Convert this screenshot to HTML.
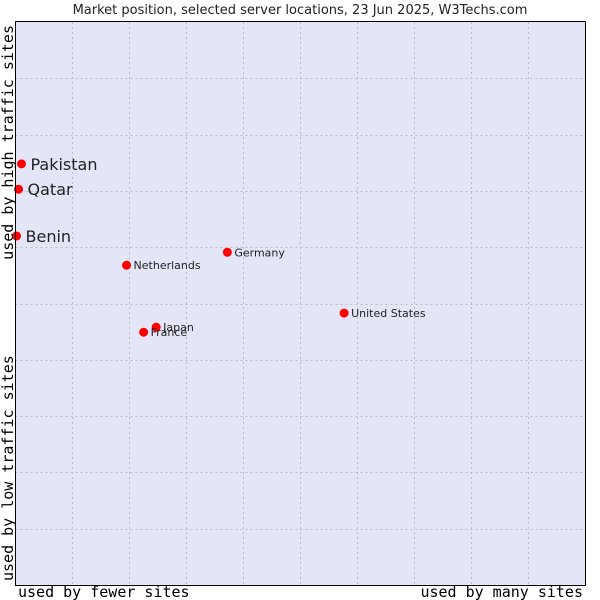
<!DOCTYPE html>
<html><head><meta charset="utf-8"><style>
html,body{margin:0;padding:0;background:#fff}
svg{display:block}
</style></head><body>
<svg id="chart" width="600" height="600" xmlns="http://www.w3.org/2000/svg">
<text x="300" y="14" text-anchor="middle" font-family="DejaVu Sans, sans-serif" font-size="13" fill="#222">Market position, selected server locations, 23 Jun 2025, W3Techs.com</text>
<rect x="15.5" y="22" width="569.5" height="563" fill="#e4e6f8"/>
<g id="grid"></g>
<g id="marks"></g>
<line x1="15.5" y1="21.5" x2="15.5" y2="585.5" stroke="#000" stroke-width="1"/>
<line x1="15" y1="585.5" x2="585.5" y2="585.5" stroke="#000" stroke-width="1"/>
<line x1="585.5" y1="21.5" x2="585.5" y2="585.5" stroke="#000" stroke-width="1"/>
<line x1="15" y1="21.5" x2="585.5" y2="21.5" stroke="#000" stroke-width="1"/>
<text x="18" y="597" font-family="DejaVu Sans Mono, monospace" font-size="15" fill="#000">used by fewer sites</text>
<text x="583" y="597" text-anchor="end" font-family="DejaVu Sans Mono, monospace" font-size="15" fill="#000">used by many sites</text>
<text transform="translate(13,581) rotate(-90)" font-family="DejaVu Sans Mono, monospace" font-size="15" fill="#000">used by low traffic sites</text>
<text transform="translate(13,25) rotate(-90)" text-anchor="end" font-family="DejaVu Sans Mono, monospace" font-size="15" fill="#000">used by high traffic sites</text>
</svg>
<script>
const countries = ["Pakistan","Qatar","Benin","Netherlands","Germany","United States","Japan","France"];
const xValues = [1.05, 0.53, 0.18, 19.5, 37.2, 57.7, 24.7, 22.5];
const yValues = [74.8, 70.3, 62.0, 56.8, 59.1, 48.3, 45.8, 44.9];
const highlighted = [true, true, true, false, false, false, false, false];
const gridTicks = [10,20,30,40,50,60,70,80,90];

const NS = "http://www.w3.org/2000/svg";
const X0 = 15.5, X1 = 585, Y0 = 585, Y1 = 22;
function xs(v){ return X0 + (X1 - X0) * v / 100; }
function ys(v){ return Y0 - (Y0 - Y1) * v / 100; }

const grid = document.getElementById('grid');
gridTicks.forEach(t => {
  const v = document.createElementNS(NS, 'line');
  
  
  const x = Math.round(xs(t)) + 0.5;
  v.setAttribute('x1', x); v.setAttribute('x2', x);
  v.setAttribute('y1', Y1); v.setAttribute('y2', Y0);
  v.setAttribute('stroke', '#bdbdbd'); v.setAttribute('stroke-dasharray', '2,3');
  grid.appendChild(v);
  const h = document.createElementNS(NS, 'line');
  
  
  const y = Math.round(ys(t)) + 0.5;
  h.setAttribute('y1', y); h.setAttribute('y2', y);
  h.setAttribute('x1', X0); h.setAttribute('x2', X1);
  h.setAttribute('stroke', '#bdbdbd'); h.setAttribute('stroke-dasharray', '2,3');
  grid.appendChild(h);
});

const marks = document.getElementById('marks');
countries.forEach((c, i) => {
  const cx = xs(xValues[i]), cy = ys(yValues[i]);
  const dot = document.createElementNS(NS, 'circle');
  
  
  dot.setAttribute('cx', cx); dot.setAttribute('cy', cy);
  dot.setAttribute('r', 4.5); dot.setAttribute('fill', '#f00');
  marks.appendChild(dot);
  const lbl = document.createElementNS(NS, 'text');
  
  
  const big = highlighted[i];
  lbl.setAttribute('x', cx + (big ? 9 : 7));
  lbl.setAttribute('y', cy + (big ? 6 : 4));
  lbl.setAttribute('font-family', 'DejaVu Sans, sans-serif');
  lbl.setAttribute('font-size', big ? 16 : 11);
  lbl.setAttribute('fill', '#222');
  lbl.textContent = c;
  marks.appendChild(lbl);
});
</script>
</body></html>
